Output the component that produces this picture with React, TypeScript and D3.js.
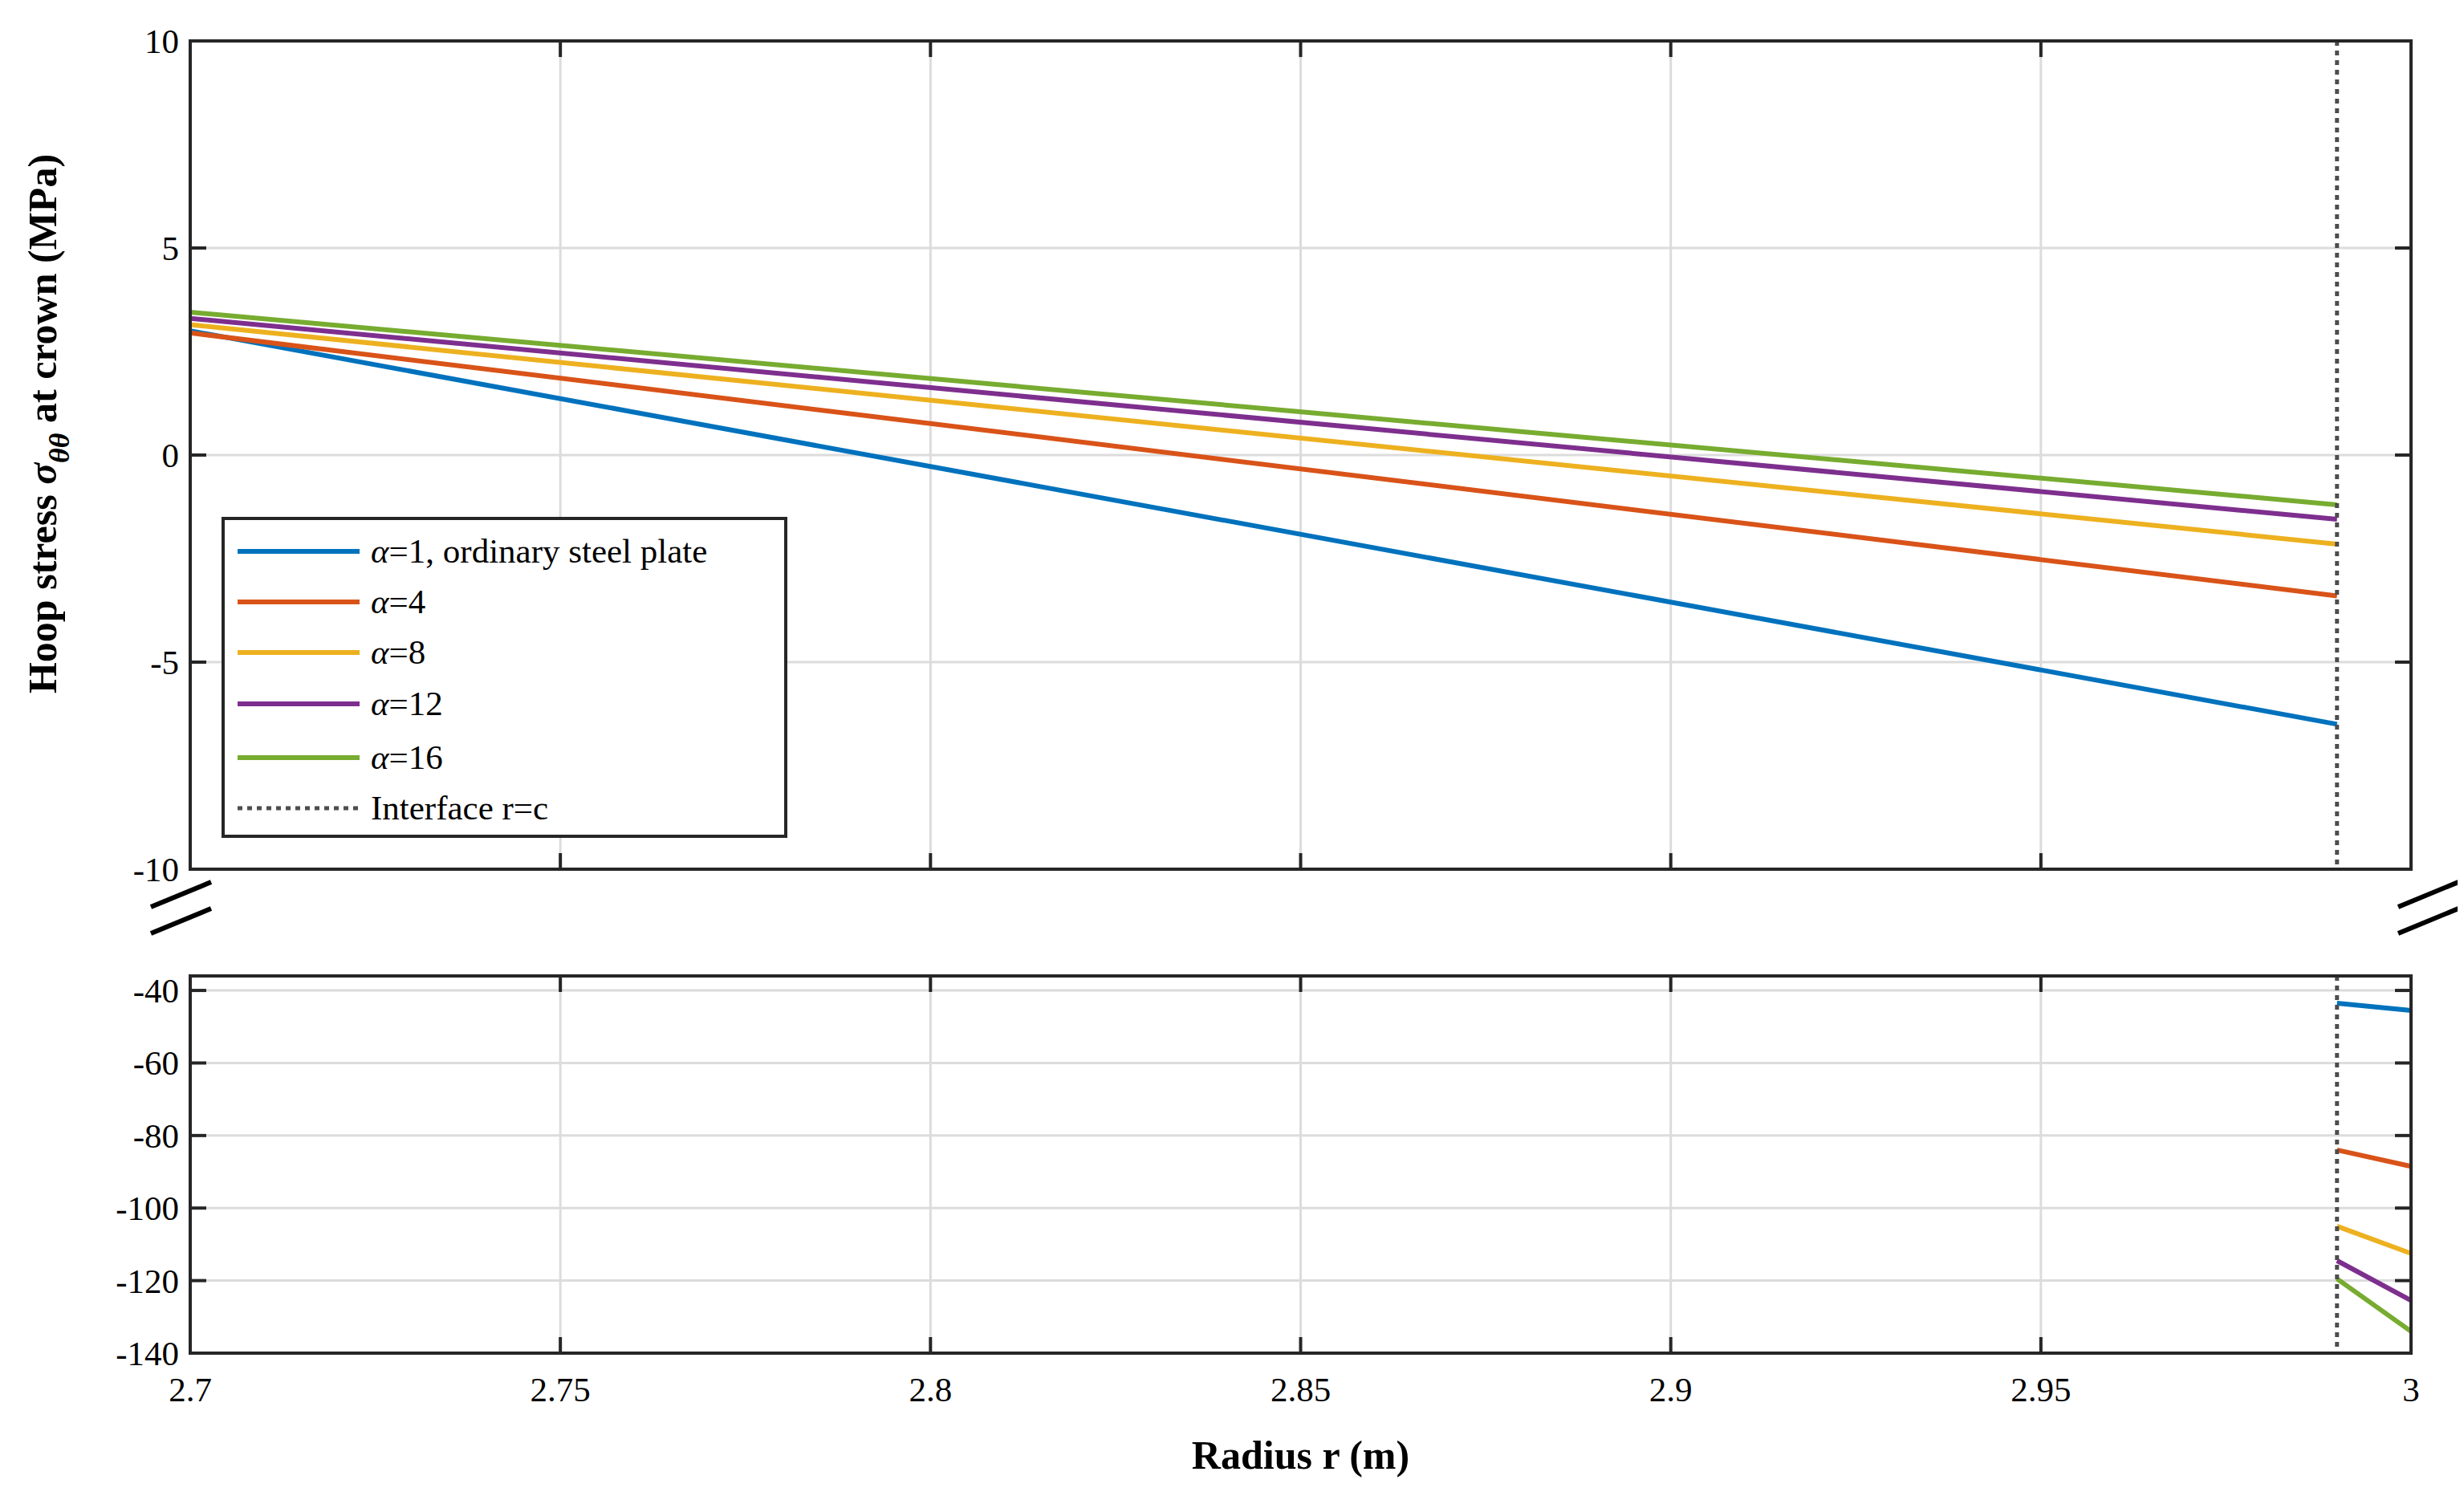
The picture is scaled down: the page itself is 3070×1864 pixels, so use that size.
import React from "react";
import * as d3 from "d3";

const series = ["α=1, ordinary steel plate", "α=4", "α=8", "α=12", "α=16"];
const colors = ["#0072BD", "#D95319", "#EDB120", "#7E2F8E", "#77AC30"];
const rStart = [2.7, 2.99];
const topVals = [[3.0, -6.5], [2.95, -3.4], [3.15, -2.15], [3.3, -1.55], [3.45, -1.2]];
const rBot = [2.99, 3.0];
const botVals = [[-43.5, -45.5], [-84, -88.5], [-105, -112.5], [-114.5, -125.5], [-119.5, -134]];
const xTicks = [2.7, 2.75, 2.8, 2.85, 2.9, 2.95, 3];
const yTopTicks = [-10, -5, 0, 5, 10];
const yBotTicks = [-140, -120, -100, -80, -60, -40];
const interfaceR = 2.99;

const W = 3070, H = 1864;
const L = 229, R = 2996;
const T1 = 43, B1 = 1075, T2 = 1208, B2 = 1678;
const font = "'Liberation Serif', 'Times New Roman', serif";

export default function App() {
  const x = d3.scaleLinear().domain([2.7, 3]).range([L, R]);
  const y1 = d3.scaleLinear().domain([-10, 10]).range([B1, T1]);
  const y2 = d3.scaleLinear().domain([-140, -36]).range([B2, T2]);
  const line = (xs: number[], ys: number[], ys2: d3.ScaleLinear<number, number>) =>
    d3.line<number>().x((_, i) => x(xs[i])).y((v) => ys2(v))(ys) || "";
  const tl = 20;
  const panel = (yS: d3.ScaleLinear<number, number>, top: number, bot: number, yt: number[], showX: boolean) => (
    <g>
      {xTicks.map((t) => <line key={"gx" + t} x1={x(t)} x2={x(t)} y1={top} y2={bot} stroke="#dcdcdc" strokeWidth={3} />)}
      {yt.map((t) => <line key={"gy" + t} x1={L} x2={R} y1={yS(t)} y2={yS(t)} stroke="#dcdcdc" strokeWidth={3} />)}
      {xTicks.map((t) => (
        <g key={"tx" + t}>
          <line x1={x(t)} x2={x(t)} y1={bot} y2={bot - tl} stroke="#262626" strokeWidth={4} />
          <line x1={x(t)} x2={x(t)} y1={top} y2={top + tl} stroke="#262626" strokeWidth={4} />
          {showX && <text x={x(t)} y={bot + 60} textAnchor="middle" fontSize={43} fontFamily={font}>{t}</text>}
        </g>
      ))}
      {yt.map((t) => (
        <g key={"ty" + t}>
          <line x1={L} x2={L + tl} y1={yS(t)} y2={yS(t)} stroke="#262626" strokeWidth={4} />
          <line x1={R} x2={R - tl} y1={yS(t)} y2={yS(t)} stroke="#262626" strokeWidth={4} />
          <text x={L - 14} y={yS(t) + 15} textAnchor="end" fontSize={43} fontFamily={font}>{t}</text>
        </g>
      ))}
    </g>
  );
  const legY = [679, 742, 805, 869, 936, 999];
  return (
    <svg width={W} height={H} style={{ display: "block" }}>
      <rect width={W} height={H} fill="white" />
      {panel(y1, T1, B1, yTopTicks, false)}
      {panel(y2, T2, B2, yBotTicks, true)}
      {topVals.map((v, i) => <path key={"t" + i} d={line(rStart, v, y1)} stroke={colors[i]} strokeWidth={6} fill="none" />)}
      {botVals.map((v, i) => <path key={"b" + i} d={line(rBot, v, y2)} stroke={colors[i]} strokeWidth={6} fill="none" />)}
      <line x1={x(interfaceR)} x2={x(interfaceR)} y1={T1} y2={B1} stroke="#4d4d4d" strokeWidth={5} strokeDasharray="6 6" />
      <line x1={x(interfaceR)} x2={x(interfaceR)} y1={T2} y2={B2} stroke="#4d4d4d" strokeWidth={5} strokeDasharray="6 6" />
      <rect x={L} y={T1} width={R - L} height={B1 - T1} fill="none" stroke="#262626" strokeWidth={4} />
      <rect x={L} y={T2} width={R - L} height={B2 - T2} fill="none" stroke="#262626" strokeWidth={4} />
      {[[180, 255], [2980, 3055]].map(([a, b], k) => (
        <g key={"br" + k} stroke="black" strokeWidth={6}>
          <line x1={a} y1={1122} x2={b} y2={1091} />
          <line x1={a} y1={1155} x2={b} y2={1124} />
        </g>
      ))}
      <rect x={270} y={638} width={701} height={396} fill="white" stroke="#262626" strokeWidth={4} />
      {series.map((s, i) => (
        <g key={"l" + i}>
          <line x1={288} x2={440} y1={legY[i]} y2={legY[i]} stroke={colors[i]} strokeWidth={6} />
          <text x={454} y={legY[i] + 14} fontSize={43} fontFamily={font}>
            <tspan fontStyle="italic">α</tspan>{s.slice(1)}
          </text>
        </g>
      ))}
      <line x1={288} x2={440} y1={legY[5]} y2={legY[5]} stroke="#4d4d4d" strokeWidth={5} strokeDasharray="6 6" />
      <text x={454} y={legY[5] + 14} fontSize={43} fontFamily={font}>Interface r=c</text>
      <text transform={`translate(62,520) rotate(-90)`} textAnchor="middle" fontSize={50} fontWeight="bold" fontFamily={font}>
        Hoop stress <tspan fontStyle="italic">σ</tspan><tspan fontStyle="italic" fontSize={36} dy={16}>θθ</tspan><tspan dy={-16}> at crown (MPa)</tspan>
      </text>
      <text x={(L + R) / 2} y={1822} textAnchor="middle" fontSize={50} fontWeight="bold" fontFamily={font}>Radius r (m)</text>
    </svg>
  );
}
